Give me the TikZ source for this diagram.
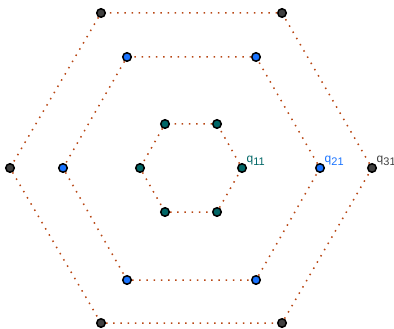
\documentclass[tikz,border=0pt]{standalone}
\usepackage{fontspec}
\setsansfont{Liberation Sans}
\usetikzlibrary{positioning}
\definecolor{EdgeBrown}{rgb}{0.72, 0.28, 0.08}
\definecolor{InnerTeal}{rgb}{0.0, 0.40, 0.40}
\definecolor{MidBlue}{rgb}{0.10, 0.45, 1.0}
\definecolor{OuterGray}{rgb}{0.25, 0.25, 0.25}
\newcommand{\qsub}[1]{q\raisebox{-3pt}{\fontsize{11}{11}\selectfont #1}}

\begin{document}
\begin{tikzpicture}[
    x=1pt, y=-1pt,
    font=\sffamily,
    vert/.style={circle, draw=black, line width=1.5pt, fill=#1, inner sep=0pt, minimum size=8.5pt},
    edge/.style={EdgeBrown, line width=1.5pt, dash pattern=on 1.5pt off 5.7pt},
    tag/.style={text=#1, font=\sffamily\fontsize{12}{12}\selectfont, inner sep=1pt},
]
\useasboundingbox (0,0) rectangle (394,329);

% --- hexagono interior ---
\node[vert=InnerTeal] (a1) at (242,168) {};
\node[vert=InnerTeal] (a2) at (217,124) {};
\node[vert=InnerTeal] (a3) at (165,124) {};
\node[vert=InnerTeal] (a4) at (140,168) {};
\node[vert=InnerTeal] (a5) at (165,212) {};
\node[vert=InnerTeal] (a6) at (217,212) {};
\draw[edge] (a1) -- (a2) -- (a3) -- (a4) -- (a5) -- (a6) -- (a1);
\node[tag=InnerTeal, above right=-2pt and 0pt of a1] (qa) {\qsub{11}};

% --- hexagono medio ---
\node[vert=MidBlue] (b1) at (320,168) {};
\node[vert=MidBlue] (b2) at (256,57) {};
\node[vert=MidBlue] (b3) at (127,57) {};
\node[vert=MidBlue] (b4) at (63,168) {};
\node[vert=MidBlue] (b5) at (127,280) {};
\node[vert=MidBlue] (b6) at (256,280) {};
\draw[edge] (b1) -- (b2) -- (b3) -- (b4) -- (b5) -- (b6) -- (b1);
\node[tag=MidBlue, above right=-2pt and 0pt of b1] (qb) {\qsub{21}};

% --- hexagono exterior ---
\node[vert=OuterGray] (c1) at (372,168) {};
\node[vert=OuterGray] (c2) at (282,13) {};
\node[vert=OuterGray] (c3) at (101,13) {};
\node[vert=OuterGray] (c4) at (10,168) {};
\node[vert=OuterGray] (c5) at (101,323) {};
\node[vert=OuterGray] (c6) at (282,323) {};
\draw[edge] (c1) -- (c2) -- (c3) -- (c4) -- (c5) -- (c6) -- (c1);
\node[tag=OuterGray, above right=-2pt and 0pt of c1] (qc) {\qsub{31}};

\end{tikzpicture}
\end{document}
